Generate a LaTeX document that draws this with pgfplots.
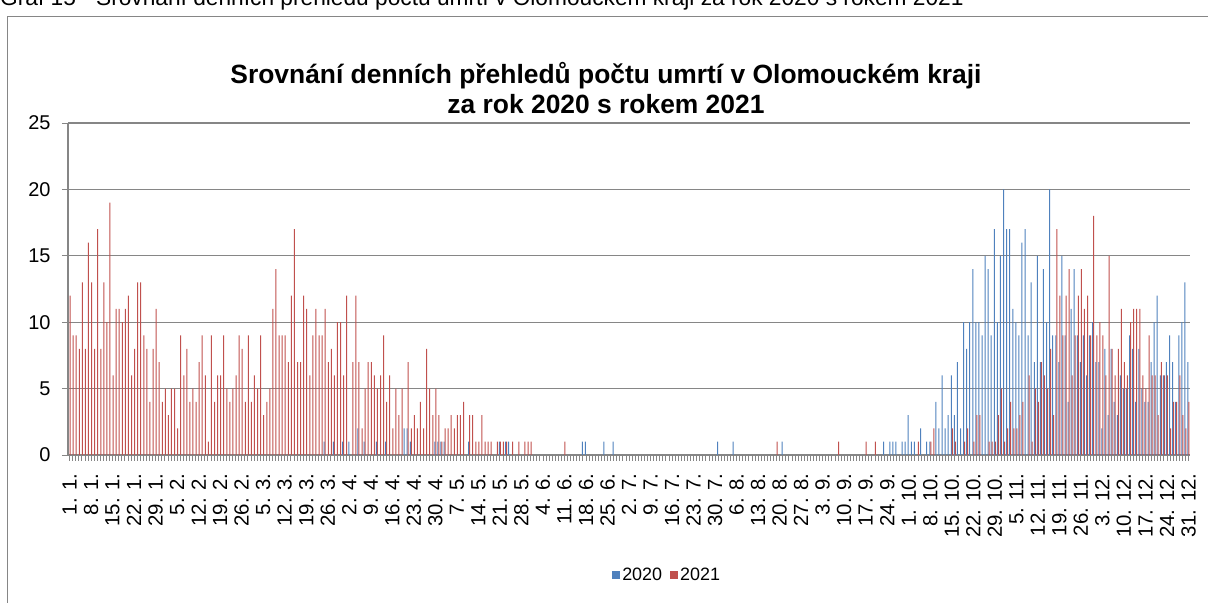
\documentclass[border=0pt]{standalone}
\usepackage{fontspec}
\setmainfont{Liberation Sans}
\usepackage{pgfplots}
\pgfplotsset{compat=1.18}
\usetikzlibrary{calc}
\definecolor{s2020}{HTML}{4F81BD}
\definecolor{s2021}{HTML}{C0504D}
\definecolor{gridgray}{HTML}{868686}

\begin{document}
\begin{tikzpicture}[x=1bp,y=1bp]
\begin{axis}[
    width=1122bp, height=332bp, scale only axis,
    xmin=-0.5, xmax=364.5, ymin=0, ymax=25,
    ytick={0,5,...,25},
    xtick={0,7,...,364},
    xticklabels={1. 1.,8. 1.,15. 1.,22. 1.,29. 1.,5. 2.,12. 2.,19. 2.,26. 2.,5. 3.,12. 3.,19. 3.,26. 3.,
      2. 4.,9. 4.,16. 4.,23. 4.,30. 4.,7. 5.,14. 5.,21. 5.,28. 5.,4. 6.,11. 6.,18. 6.,25. 6.,
      2. 7.,9. 7.,16. 7.,23. 7.,30. 7.,6. 8.,13. 8.,20. 8.,27. 8.,3. 9.,10. 9.,17. 9.,24. 9.,
      1. 10.,8. 10.,15. 10.,22. 10.,29. 10.,5. 11.,12. 11.,19. 11.,26. 11.,3. 12.,10. 12.,17. 12.,24. 12.,31. 12.},
    minor xtick={0,...,364},
    axis x line*=bottom, axis y line*=left,
    axis line style={gridgray, line width=1.2bp, -},
    every tick/.style={gridgray, line width=0.8bp},
    tick align=outside, major tick length=6bp, minor tick length=6bp,
    ymajorgrids, major grid style={gridgray, line width=1.2bp},
    /pgf/number format/assume math mode=true,
    yticklabel style={font=\fontsize{20}{24}\selectfont},
    yticklabel shift=8bp,
    xticklabel style={rotate=90, anchor=east, font=\fontsize{20.5}{24}\selectfont},
    xticklabel shift=9bp,
    ybar=0pt, bar width=1bp,
    legend style={at={(0.534,-0.361)}, anchor=center, draw=none, fill=none,
      legend columns=2, font=\fontsize{18}{22}\selectfont,
      /tikz/every even column/.append style={column sep=6bp}},
    legend image code/.code={\fill[#1] (0bp,-4bp) rectangle (8bp,4bp);},
]
\coordinate (O) at (rel axis cs:0,0);
% 2020
\addplot[fill=s2020, draw=none] coordinates {
(83,1)(86,1)(89,1)(91,1)(94,2)(96,1)(100,1)(103,1)(109,2)(110,2)(111,1)(119,1)(120,1)(121,1)(122,1)
(130,1)(140,1)(142,1)(143,1)(167,1)(168,1)(174,1)(177,1)(211,1)(216,1)(232,1)
(265,1)(267,1)(268,1)(269,1)(271,1)(272,1)(273,3)(274,1)(275,1)(277,2)(279,1)(280,1)(282,4)(283,2)
(284,6)(285,2)(286,3)(287,6)(288,3)(289,7)(290,2)(291,10)(292,8)(293,10)(294,14)(295,10)(296,10)(297,9)
(298,15)(299,14)(300,9)(301,17)(302,10)(303,15)(304,20)(305,17)(306,17)(307,11)(308,10)(309,9)(310,16)(311,17)
(312,9)(313,13)(314,7)(315,15)(316,7)(317,14)(318,10)(319,20)(320,9)(321,9)(322,7)(323,15)(324,9)(325,4)
(326,11)(327,14)(328,9)(329,7)(330,9)(331,6)(332,9)(333,10)(334,7)(335,7)(336,2)(337,8)(338,3)
(339,8)(340,4)(341,3)(342,6)(343,5)(344,5)(345,9)(346,8)(347,4)(348,8)(349,5)(350,4)(351,4)(352,7)
(353,10)(354,12)(355,6)(356,6)(357,7)(358,9)(359,7)(360,4)(361,9)(362,10)(363,13)(364,7)
};
% 2021
\addplot[fill=s2021, draw=none] coordinates {
(0,12)(1,9)(2,9)(3,8)(4,13)(5,8)(6,16)(7,13)(8,8)(9,17)(10,8)(11,13)(12,10)(13,19)(14,6)(15,11)
(16,11)(17,10)(18,11)(19,12)(20,6)(21,8)(22,13)(23,13)(24,9)(25,8)(26,4)(27,8)(28,11)(29,7)(30,4)
(31,5)(32,3)(33,5)(34,5)(35,2)(36,9)(37,6)(38,8)(39,4)(40,5)(41,4)(42,7)(43,9)(44,6)(45,1)(46,9)
(47,4)(48,6)(49,6)(50,9)(51,5)(52,4)(53,5)(54,6)(55,9)(56,8)(57,4)(58,9)(59,4)(60,6)(61,5)(62,9)
(63,3)(64,4)(65,5)(66,11)(67,14)(68,9)(69,9)(70,9)(71,7)(72,12)(73,17)(74,7)(75,7)(76,12)(77,11)
(78,6)(79,9)(80,11)(81,9)(82,9)(83,11)(84,7)(85,8)(86,6)(87,10)(88,10)(89,6)(90,12)(92,7)(93,12)
(94,7)(95,2)(96,5)(97,7)(98,7)(99,6)(100,5)(101,6)(102,9)(103,4)(104,6)(105,2)(106,5)(107,3)(108,5)
(110,7)(111,2)(112,3)(113,2)(114,4)(115,2)(116,8)(117,5)(118,3)(119,5)(120,3)(121,1)(122,2)(123,2)(124,3)
(125,2)(126,3)(127,3)(128,4)(130,3)(131,3)(132,1)(133,1)(134,3)(135,1)(136,1)(137,1)(139,1)(140,1)
(141,1)(142,1)(144,1)(146,1)(148,1)(149,1)(150,1)(161,1)(230,1)(250,1)(259,1)(262,1)(276,1)(280,1)(281,2)
(287,2)(288,1)(291,1)(292,2)(294,1)(295,3)(296,3)(299,1)(300,1)(301,1)(302,3)(303,5)(304,1)(305,2)
(306,4)(307,2)(308,2)(309,3)(310,4)
(312,6)(313,1)(314,5)(315,4)(316,7)(317,6)(318,5)(319,8)(320,3)(321,17)(322,12)(323,9)(324,12)(325,14)
(326,6)(327,9)(328,12)(329,14)(330,11)(331,12)(332,9)(333,18)(334,9)(335,10)(336,9)(337,6)(338,15)
(339,8)(340,6)(341,8)(342,11)(343,7)(344,6)(345,10)(346,11)(347,11)(348,11)(349,6)(350,5)(351,9)
(352,6)(353,6)(354,3)(355,7)(356,6)(357,6)(358,2)(359,4)(360,4)(361,6)(362,3)(363,2)(364,4)
};
\legend{2020,2021}
\end{axis}
% page = reference frame, plot area corner at (68,455) from top-left
\pgfresetboundingbox
\useasboundingbox ($(O)+(-68,-148)$) rectangle ($(O)+(1140,455)$);
\node[anchor=base west, inner sep=0, font=\fontsize{22.8}{26}\selectfont] at ($(O)+(-68,449)$)
  {Graf 15 - Srovnání denních přehledů počtu umrtí v Olomouckém kraji za rok 2020 s rokem 2021};
\draw[gridgray, line width=1bp] ($(O)+(-60,-155)$) -- ($(O)+(-60,438)$) -- ($(O)+(1150,438)$);
\node[anchor=base, inner sep=0, font=\bfseries\fontsize{26.5}{30}\selectfont] at ($(O)+(538,371)$)
  {Srovnání denních přehledů počtu umrtí v Olomouckém kraji};
\node[anchor=base, inner sep=0, font=\bfseries\fontsize{26.5}{30}\selectfont] at ($(O)+(538,341)$)
  {za rok 2020 s rokem 2021};
\end{tikzpicture}
\end{document}
